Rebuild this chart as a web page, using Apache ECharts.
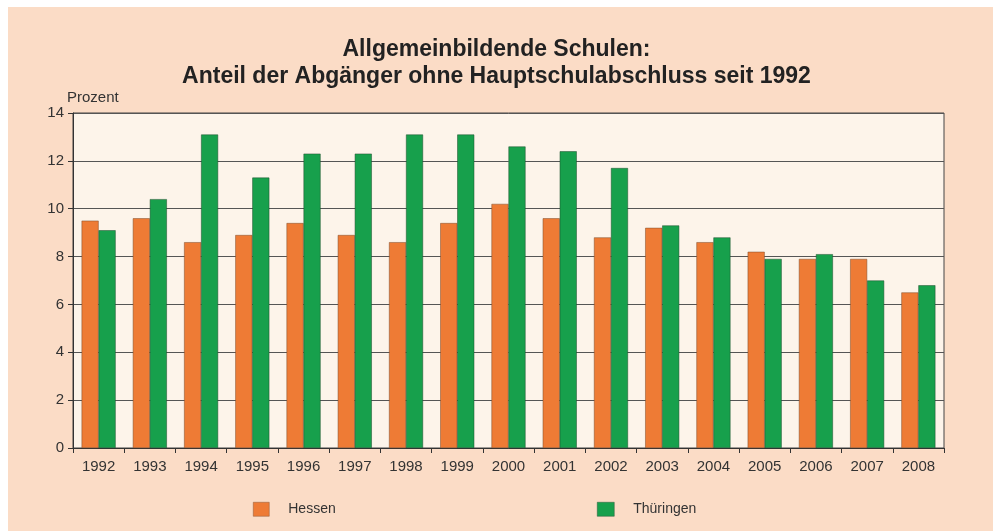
<!DOCTYPE html>
<html>
<head>
<meta charset="utf-8">
<script src="https://cdn.jsdelivr.net/npm/echarts@6/dist/echarts.min.js"></script>
<style>
  html,body{margin:0;padding:0;background:#fff;}
  #chart{width:993px;height:531px;}
</style>
</head>
<body>
<div id="chart"></div>
<script>
// Daten
var jahre = ['1992','1993','1994','1995','1996','1997','1998','1999','2000','2001','2002','2003','2004','2005','2006','2007','2008'];
var hessen = [9.5, 9.6, 8.6, 8.9, 9.4, 8.9, 8.6, 9.4, 10.2, 9.6, 8.8, 9.2, 8.6, 8.2, 7.9, 7.9, 6.5];
var thueringen = [9.1, 10.4, 13.1, 11.3, 12.3, 12.3, 13.1, 13.1, 12.6, 12.4, 11.7, 9.3, 8.8, 7.9, 8.1, 7.0, 6.8];
var yTicks = [0, 2, 4, 6, 8, 10, 12, 14];

(function(){
    var myChart = echarts.init(document.getElementById('chart'));
    var font = 'Liberation Sans, Arial, sans-serif';
    var option = {
        backgroundColor: '#ffffff',
        textStyle: {fontFamily: font},
        graphic: [
            {type: 'rect', left: 8, top: 7, shape: {width: 985, height: 524}, style: {fill: '#fbdcc6'}, z: -10}
        ],
        title: {
            text: 'Allgemeinbildende Schulen:\nAnteil der Abgänger ohne Hauptschulabschluss seit 1992',
            left: 'center',
            top: 31,
            textStyle: {fontSize: 23, fontWeight: 'bold', color: '#222', lineHeight: 27, fontFamily: font}
        },
        legend: [
            {
                data: ['Hessen'], left: 248, top: 497, icon: 'rect',
                itemWidth: 16, itemHeight: 14,
                itemStyle: {borderColor: '#8a5a3a', borderWidth: 0.5},
                textStyle: {fontSize: 14, color: '#333', padding: [0, 0, 0, 14]}
            },
            {
                data: ['Thüringen'], left: 592, top: 497, icon: 'rect',
                itemWidth: 17, itemHeight: 14,
                itemStyle: {borderColor: '#2a5a3a', borderWidth: 0.5},
                textStyle: {fontSize: 14, color: '#333', padding: [0, 0, 0, 14]}
            }
        ],
        grid: {
            left: 73, right: 49, top: 113, bottom: 83,
            show: true, backgroundColor: '#fdf4ea', borderColor: '#444', borderWidth: 1
        },
        xAxis: {
            type: 'category',
            data: jahre,
            axisLine: {lineStyle: {color: '#333'}},
            axisTick: {show: true, alignWithLabel: false, length: 5, lineStyle: {color: '#333'}},
            axisLabel: {fontSize: 15, color: '#333', margin: 11}
        },
        yAxis: {
            type: 'value',
            min: 0, max: 14, interval: 2,
            name: 'Prozent',
            nameLocation: 'end',
            nameGap: 7,
            nameTextStyle: {fontSize: 15, color: '#333', align: 'left', padding: [0, 0, 0, -6]},
            axisLine: {show: true, lineStyle: {color: '#333'}},
            axisTick: {show: true, length: 5, lineStyle: {color: '#333'}},
            axisLabel: {fontSize: 15, color: '#333', margin: 9},
            splitLine: {lineStyle: {color: '#555', width: 1}}
        },
        series: [
            {
                name: 'Hessen', type: 'bar', data: hessen,
                barWidth: 17, barGap: '0%',
                itemStyle: {color: '#ee7b35', borderColor: '#7a4a2a', borderWidth: 0.5}
            },
            {
                name: 'Thüringen', type: 'bar', data: thueringen,
                barWidth: 17, barGap: '0%',
                itemStyle: {color: '#17a04c', borderColor: '#1f4d2c', borderWidth: 0.5}
            }
        ]
    };
    myChart.setOption(option);
})();
</script>
</body>
</html>
